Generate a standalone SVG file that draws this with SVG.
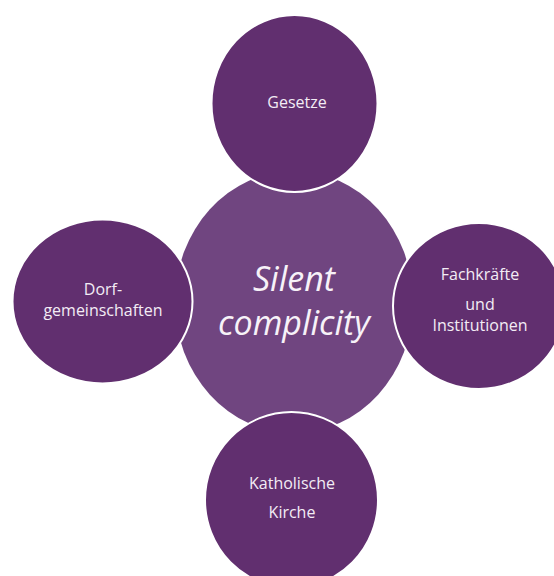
<svg xmlns="http://www.w3.org/2000/svg" width="554" height="576" viewBox="0 0 554 576">
  <style>
    .sat { fill: #612f6f; stroke: #ffffff; stroke-width: 2; }
    .core { fill: #704580; }
    .lbl { font-family: "Open Sans", "Liberation Sans", sans-serif; font-size: 16px; fill: #f3ecf5; text-anchor: middle; }
    .big { font-family: "Open Sans", "Liberation Sans", sans-serif; font-size: 34px; font-style: italic; fill: #f7f2f8; text-anchor: middle; }
  </style>
  <rect x="0" y="0" width="554" height="576" fill="#ffffff"/>
  <g id="connectors"></g>
  <g id="node-center">
    <ellipse class="core" cx="294" cy="302" rx="119" ry="131"/>
    <text class="big" x="294" y="291">Silent</text>
    <text class="big" x="294" y="335">complicity</text>
  </g>
  <g id="node-gesetze">
    <ellipse class="sat" cx="294.5" cy="103.5" rx="83" ry="88.5"/>
    <text class="lbl" x="297" y="108">Gesetze</text>
  </g>
  <g id="node-dorf">
    <ellipse class="sat" cx="102.5" cy="301.5" rx="90" ry="82"/>
    <text class="lbl" x="103" y="295">Dorf-</text>
    <text class="lbl" x="103" y="316">gemeinschaften</text>
  </g>
  <g id="node-fach">
    <ellipse class="sat" cx="479" cy="306" rx="86" ry="83"/>
    <text class="lbl" x="480" y="280">Fachkräfte</text>
    <text class="lbl" x="480" y="310">und</text>
    <text class="lbl" x="480" y="331">Institutionen</text>
  </g>
  <g id="node-kirche">
    <ellipse class="sat" cx="291.5" cy="500" rx="86.5" ry="88"/>
    <text class="lbl" x="292" y="489">Katholische</text>
    <text class="lbl" x="292" y="518">Kirche</text>
  </g>
</svg>
